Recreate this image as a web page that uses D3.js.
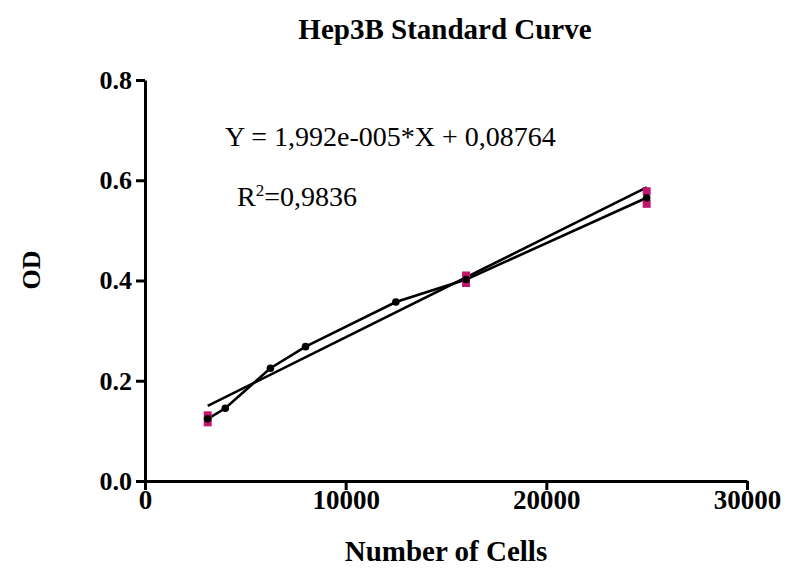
<!DOCTYPE html>
<html>
<head>
<meta charset="utf-8">
<script src="https://cdn.jsdelivr.net/npm/d3@7"></script>
<style>
  body { margin: 0; background: #fff; }
  svg text { font-family: "Liberation Serif", "DejaVu Serif", serif; }
</style>
</head>
<body>
<div id="chart"></div>
<script>
// mean values (black points, joined by a line)
const cells = [3125, 4000, 6250, 8000, 12500, 16000, 25000]
const odMean = [0.124, 0.145, 0.225, 0.268, 0.357, 0.402, 0.565]

// replicate values (magenta squares)
const repCells = [3125, 3125, 16000, 16000, 25000, 25000]
const repOd = [0.131, 0.117, 0.410, 0.395, 0.578, 0.553]

// linear fit
const slope = 1.992e-5
const intercept = 0.08764
const fitRange = [3125, 25000]

const xTicks = [0, 10000, 20000, 30000]
const yTicks = [0.0, 0.2, 0.4, 0.6, 0.8]

const width = 787
const height = 569
const margin = { top: 80, right: 40, bottom: 88, left: 145 }

const svg = d3.select("#chart")
    .append("svg")
    .attr("width", width)
    .attr("height", height)

//scales
const x = d3.scaleLinear()
    .domain([0, 30000])
    .range([margin.left, 747])

const y = d3.scaleLinear()
    .domain([0, 0.8])
    .range([481, margin.top])

//title
svg.append("text")
    .attr("x", 445)
    .attr("y", 39)
    .attr("text-anchor", "middle")
    .style("font-size", "29px")
    .style("font-weight", "bold")
    .text("Hep3B Standard Curve")

//x axis
const xAxis = svg.append("g")
    .attr("transform", `translate(0,${y(0)})`)
    .call(d3.axisBottom(x).tickValues(xTicks).tickFormat(d3.format("d")).tickSize(9).tickSizeOuter(0))

//y axis
const yAxis = svg.append("g")
    .attr("transform", `translate(${x(0)},0)`)
    .call(d3.axisLeft(y).tickValues(yTicks).tickFormat(d3.format(".1f")).tickSize(9).tickSizeOuter(0))

svg.selectAll(".domain").attr("stroke", "#000").attr("stroke-width", 3)
svg.selectAll(".tick line").attr("stroke", "#000").attr("stroke-width", 3)
svg.selectAll(".tick text")
    .style("font-size", "27px")
    .style("font-weight", "bold")
    .attr("fill", "#000")
    .style("font-family", "'Liberation Serif', serif")
xAxis.selectAll(".tick text").attr("y", 9).attr("dy", "0.71em")
yAxis.selectAll(".tick text").attr("x", -13).style("font-size", "26px")

//axis labels
svg.append("text")
    .attr("x", 446)
    .attr("y", 561)
    .attr("text-anchor", "middle")
    .style("font-size", "29px")
    .style("font-weight", "bold")
    .text("Number of Cells")

svg.append("text")
    .attr("transform", "translate(40,270) rotate(-90)")
    .attr("text-anchor", "middle")
    .style("font-size", "26px")
    .style("font-weight", "bold")
    .text("OD")

//fit line
svg.append("line")
    .attr("x1", x(fitRange[0]))
    .attr("y1", y(slope * fitRange[0] + intercept))
    .attr("x2", x(fitRange[1]))
    .attr("y2", y(slope * fitRange[1] + intercept))
    .attr("stroke", "#000")
    .attr("stroke-width", 2.6)

//connecting line
const line = d3.line()
    .x((d, i) => x(cells[i]))
    .y(d => y(d))

svg.append("path")
    .datum(odMean)
    .attr("d", line)
    .attr("fill", "none")
    .attr("stroke", "#000")
    .attr("stroke-width", 2.6)

//replicates
svg.selectAll(".rep")
    .data(repOd)
    .enter()
    .append("rect")
    .attr("class", "rep")
    .attr("x", (d, i) => x(repCells[i]) - 4)
    .attr("y", d => y(d) - 4)
    .attr("width", 8)
    .attr("height", 8)
    .attr("fill", "#c0166e")

//means
svg.selectAll(".pt")
    .data(odMean)
    .enter()
    .append("circle")
    .attr("class", "pt")
    .attr("cx", (d, i) => x(cells[i]))
    .attr("cy", d => y(d))
    .attr("r", 3.8)
    .attr("fill", "#000")

//equation
svg.append("text")
    .attr("x", 225)
    .attr("y", 146)
    .style("font-size", "28px")
    .text("Y = 1,992e-005*X + 0,08764")

const r2 = svg.append("text")
    .attr("x", 237)
    .attr("y", 206)
    .style("font-size", "28px")
r2.append("tspan").text("R")
r2.append("tspan").attr("dy", -10).style("font-size", "17px").text("2")
r2.append("tspan").attr("dy", 10).text("=0,9836")
</script>
</body>
</html>
